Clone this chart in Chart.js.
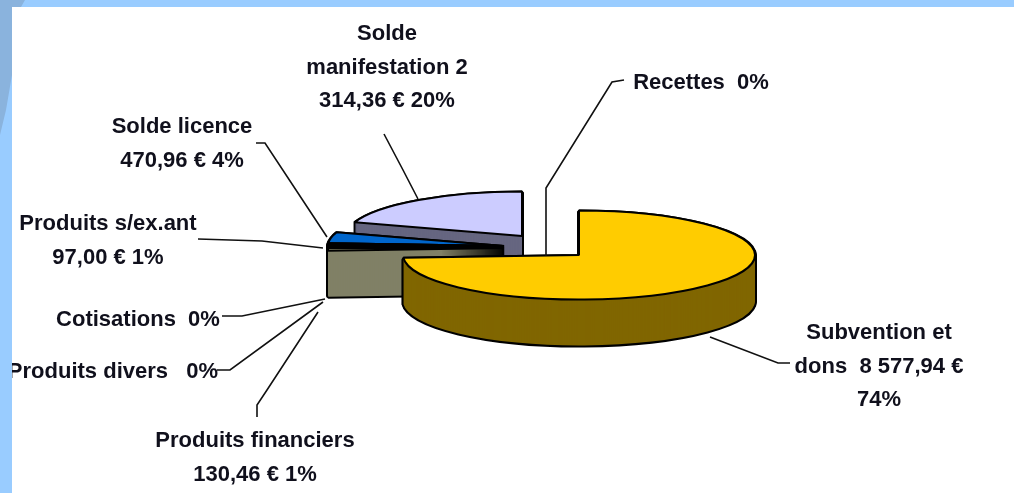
<!DOCTYPE html>
<html lang="fr">
<head>
<meta charset="utf-8">
<title>Produits</title>
<script src="https://cdn.jsdelivr.net/npm/chart.js@4"></script>
<style>
    html, body { margin: 0; padding: 0; background: #fff; overflow: hidden; }
    #wrap { position: relative; width: 1014px; height: 493px; }
    #pie { position: absolute; left: 0; top: 0; filter: blur(0.35px); }
    #band-top { position: absolute; left: 0; top: 0; width: 1014px; height: 7px; background: #99ccff; }
    #band-left { position: absolute; left: 0; top: 0; width: 12px; height: 493px; background: #99ccff; }
    #band-shade { position: absolute; left: 0; top: 0; width: 26px; height: 140px; background: #8ab3dd;
        clip-path: polygon(0 0, 25px 0, 21px 7px, 12px 7px, 12px 75px, 6px 110px, 0 135px); }
</style>
</head>
<body>
<div id="wrap">
    <canvas id="pie" width="1014" height="493"></canvas>
    <div id="band-top"></div>
    <div id="band-left"></div>
    <div id="band-shade"></div>
</div>
<script>
// ============================================
// DATA
// ============================================
const categories = ['Subvention et dons', 'Recettes', 'Produits financiers', 'Produits divers',
    'Cotisations', 'Produits s/ex.ant', 'Solde licence', 'Solde manifestation 2'];
const amounts = [8577.94, 0, 130.46, 0, 0, 97.00, 470.96, 2314.36];

const labelLines = [
    ['Subvention et', 'dons  8 577,94 €', '74%'],
    ['Recettes  0%'],
    ['Produits financiers', '130,46 € 1%'],
    ['Produits divers   0%'],
    ['Cotisations  0%'],
    ['Produits s/ex.ant', '97,00 € 1%'],
    ['Solde licence', '470,96 € 4%'],
    ['Solde', 'manifestation 2', '314,36 € 20%']
];

// ============================================
// STYLE AND LAYOUT
// ============================================
const topColors = ['#ffcc00', '#ccffff', '#808066', '#ccffcc', '#ff99cc', '#000000', '#0066cc', '#ccccff'];
const sideColors = ['#806600', '#668080', '#808066', '#668066', '#804d66', '#000000', '#003366', '#666680'];

const RADIUS_X = 176;
const RADIUS_Y = 44.5;
const DEPTH = 46;

// where each exploded slice has its tip
const sliceTips = [[579, 255], [579, 255], [504, 248], [504, 248], [504, 248], [504, 246], [504, 246], [522, 236]];

// label centres, first line y, and line height
const labelSpots = [[879, 333], [701, 83], [255, 441], [113, 372], [138, 320], [108, 224], [182, 127], [387, 34]];
const LINE_HEIGHT = 33.5;

const leaders = [
    [[790, 363], [778, 363], [710, 337]],
    [[624, 80], [612, 82], [546, 188], [546, 256]],
    [[257, 417], [257, 405], [267, 390], [318, 312]],
    [[217, 370], [230, 370], [323, 302]],
    [[222, 316], [242, 316], [325, 299]],
    [[198, 239], [262, 241], [323, 248]],
    [[256, 143], [265, 143], [327, 237]],
    [[384, 134], [403, 170], [418, 199]]
];

// ============================================
// SQUASHED 3D PIE
// ============================================
function drawSlice(ctx, arc, index, shift, options) {
    const [tipX, tipY] = sliceTips[index];
    const saved = arc.options;
    arc.options = Object.assign({}, saved, options);
    ctx.save();
    ctx.translate(tipX, tipY + shift);
    ctx.scale(1, RADIUS_Y / RADIUS_X);
    ctx.translate(-arc.x, -arc.y);
    arc.draw(ctx);
    ctx.restore();
    arc.options = saved;
}

const piePlugin = {
    id: 'pie3d',
    beforeDatasetDraw(chart) {
        const ctx = chart.ctx;
        const arcs = chart.getDatasetMeta(0).data;

        // strokes are made in plain pixels so the outline stays even after the squash
        ctx.stroke = function () {
            this.save();
            this.setTransform(1, 0, 0, 1, 0, 0);
            CanvasRenderingContext2D.prototype.stroke.call(this);
            this.restore();
        };

        for (let i = arcs.length - 1; i >= 0; i--) {
            if (!amounts[i]) continue;
            for (let d = DEPTH; d >= 1; d--) {
                drawSlice(ctx, arcs[i], i, d, { backgroundColor: '#000', borderColor: '#000', borderWidth: 4 });
            }
            for (let d = DEPTH; d >= 1; d--) {
                drawSlice(ctx, arcs[i], i, d, { backgroundColor: sideColors[i], borderWidth: 0 });
            }
            drawSlice(ctx, arcs[i], i, 0, { backgroundColor: topColors[i], borderColor: '#000', borderWidth: 2 });
        }

        delete ctx.stroke;
        return false;
    },
    afterDraw(chart) {
        const ctx = chart.ctx;
        ctx.save();
        ctx.strokeStyle = '#111';
        ctx.lineWidth = 1.6;
        leaders.forEach(points => {
            ctx.beginPath();
            points.forEach(([x, y], i) => i ? ctx.lineTo(x, y) : ctx.moveTo(x, y));
            ctx.stroke();
        });
        ctx.fillStyle = '#10101c';
        ctx.font = 'bold 22px "Liberation Sans"';
        ctx.textAlign = 'center';
        ctx.textBaseline = 'middle';
        labelLines.forEach((lines, i) => {
            const [x, y] = labelSpots[i];
            lines.forEach((line, n) => ctx.fillText(line, x, y + n * LINE_HEIGHT));
        });
        ctx.restore();
    }
};

new Chart(document.getElementById('pie'), {
    type: 'pie',
    data: {
        labels: categories,
        datasets: [{
            data: amounts,
            backgroundColor: topColors,
            borderWidth: 0,
            radius: RADIUS_X
        }]
    },
    options: {
        responsive: false,
        animation: false,
        plugins: {
            legend: { display: false },
            tooltip: { enabled: false }
        }
    },
    plugins: [piePlugin]
});
</script>
</body>
</html>
